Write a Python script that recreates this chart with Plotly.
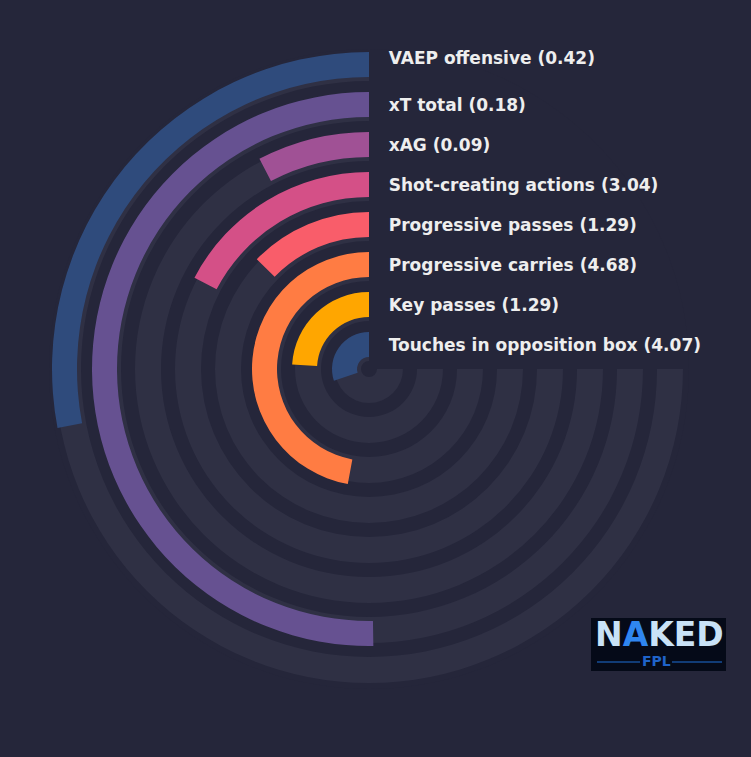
import plotly.graph_objects as go

# ---- data (outer ring first) ----
metrics = ["VAEP offensive", "xT total", "xAG", "Shot-creating actions",
           "Progressive passes", "Progressive carries", "Key passes",
           "Touches in opposition box"]
raw_values = [0.42, 0.18, 0.09, 3.04, 1.29, 4.68, 1.29, 4.07]
percentiles = [37.3, 67.0, 10.2, 23.1, 16.9, 62.8, 32.1, 40.2]
colors = ["#2f4b7c", "#665191", "#a05195", "#d45087",
          "#f95d6a", "#ff7c43", "#ffa600", "#2f4b7c"]

BG = "#25263a"
TRACK = "#2f3044"
MAX_DEG = 270.0

n = len(metrics)
ring = [n - 1 - i for i in range(n)]
bar_base = [k + 0.3 for k in ring]
bar_thick = [0.625] * n
track_base = [k + 0.2 for k in ring]
track_thick = [0.65] * n
span = [p / 100 * MAX_DEG for p in percentiles]

fig = go.Figure()

fig.add_trace(go.Barpolar(
    r=track_thick, base=track_base,
    theta=[MAX_DEG / 2] * n, width=[MAX_DEG] * n,
    marker=dict(color=TRACK, line=dict(width=0)),
    hoverinfo="skip", showlegend=False))

fig.add_trace(go.Barpolar(
    r=bar_thick, base=bar_base,
    theta=[s / 2 for s in span], width=span,
    marker=dict(color=colors, line=dict(width=0)),
    customdata=raw_values, text=metrics,
    hovertemplate="%{text}: %{customdata}<extra></extra>",
    showlegend=False))

labels = [f"{m} ({v:.2f})" for m, v in zip(metrics, raw_values)]
label_r = [b + t / 2 - 0.05 for b, t in zip(bar_base, bar_thick)]
label_r[0] += 0.18
fig.add_trace(go.Scatterpolar(
    r=label_r, theta=[0] * n, mode="markers+text",
    text=labels, textposition="middle right",
    marker=dict(size=30, opacity=0),
    textfont=dict(family="DejaVu Sans", size=17, color="#eeeeee", weight="bold"),
    cliponaxis=False, hoverinfo="skip", showlegend=False))

fig.update_layout(
    width=751, height=757,
    paper_bgcolor=BG, plot_bgcolor=BG,
    margin=dict(l=0, r=0, t=0, b=0),
    polar=dict(
        bgcolor=BG, barmode="overlay", hole=0,
        domain=dict(x=[49 / 751, 689 / 751], y=[1 - 689 / 757, 1 - 49 / 757]),
        radialaxis=dict(range=[0, 8], visible=False),
        angularaxis=dict(rotation=90, direction="counterclockwise", visible=False),
    ),
)

# ---- logo (Naked FPL) ----
fig.add_shape(type="rect", xref="paper", yref="paper",
              x0=591 / 751, x1=726 / 751, y0=1 - 671 / 757, y1=1 - 618 / 757,
              fillcolor="#050a18", line=dict(width=0), layer="above")
fig.add_annotation(xref="paper", yref="paper", x=659 / 751, y=1 - 634 / 757,
                   text="N<span style='color:#2f86f0'>A</span>KED",
                   showarrow=False, xanchor="center", yanchor="middle",
                   font=dict(family="DejaVu Sans", size=33, color="#c9e2f7", weight="bold"))
fig.add_annotation(xref="paper", yref="paper", x=656 / 751, y=1 - 661 / 757,
                   text="FPL", showarrow=False, xanchor="center", yanchor="middle",
                   font=dict(family="DejaVu Sans", size=14, color="#1f63c9", weight="bold"))
for xa, xb in [(597, 640), (672, 722)]:
    fig.add_shape(type="line", xref="paper", yref="paper",
                  x0=xa / 751, x1=xb / 751, y0=1 - 662 / 757, y1=1 - 662 / 757,
                  line=dict(color="#1f6fd6", width=1), layer="above")

fig.write_html("out.html", config={"displayModeBar": False},
               post_script="document.body.style.margin='0px';"
                           "document.body.style.background='#25263a';")
